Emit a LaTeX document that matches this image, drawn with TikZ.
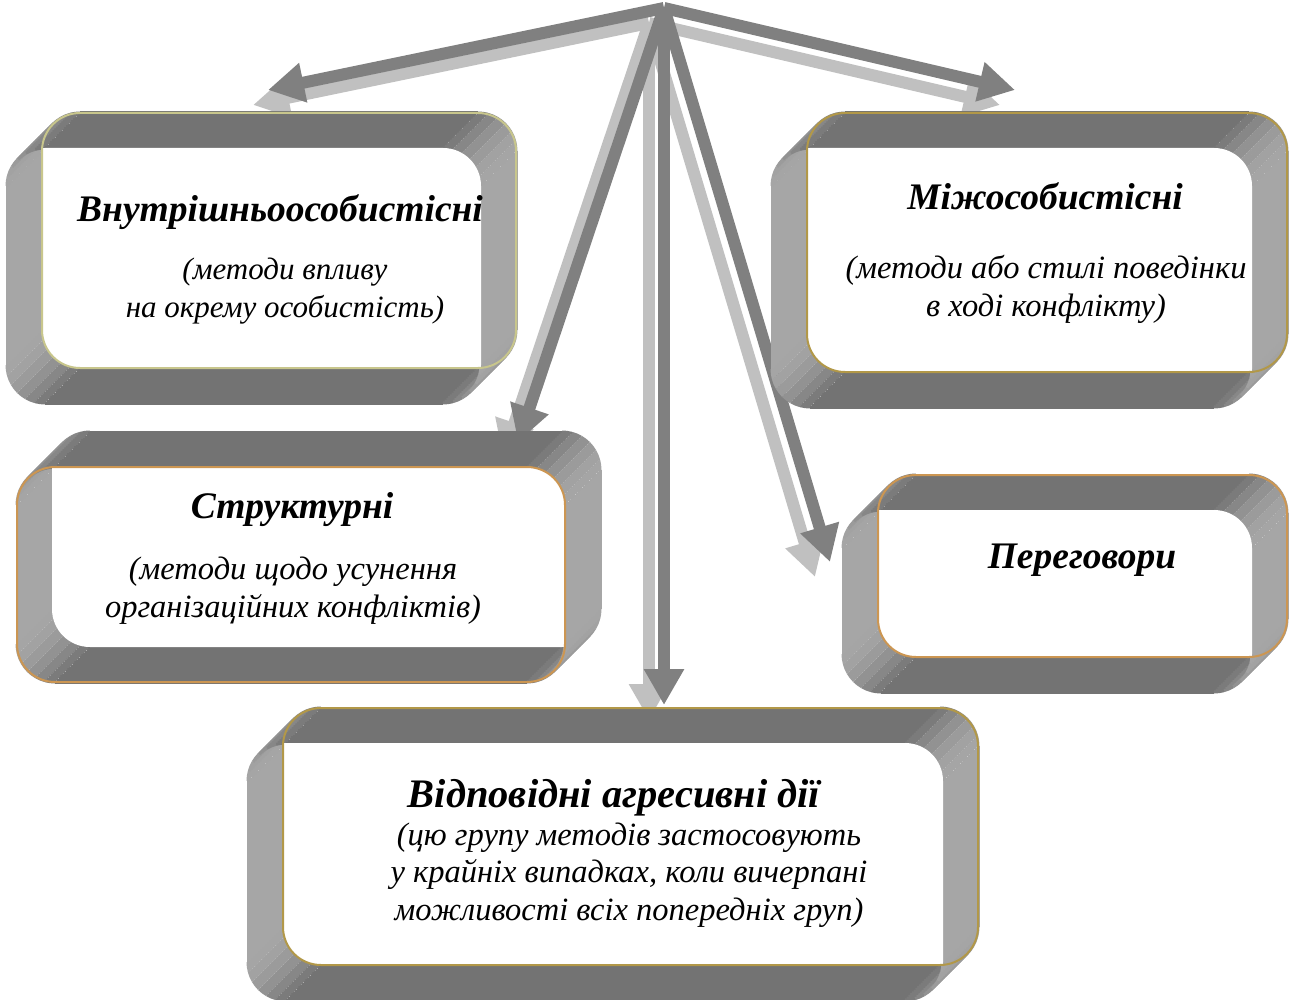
\documentclass[tikz,border=0pt]{standalone}
\usepackage{fontspec}
\setmainfont{Liberation Serif}
\usetikzlibrary{arrows.meta}

\definecolor{arrowDark}{RGB}{128,128,128}
\definecolor{arrowLight}{RGB}{192,192,192}
\definecolor{rimOlive}{RGB}{200,198,140}
\definecolor{rimGold}{RGB}{178,152,72}
\definecolor{rimAmber}{RGB}{204,150,82}

% tube frame: #1..#4 = left, top, right, bottom of the upper face,
% #5 = rim colour, #6 = 0 (rim on upper face) or 35 (rim on lower face)
\newcommand{\tubeframe}[6]{%
  \foreach \k in {0,...,20}{%
    \begin{scope}[shift={(-\k*1.75,\k*1.75)}]
      \draw[wall, draw=black!35] (#1,#2+38) -- (#1,#4-38);
      \draw[wall, draw=black!35] (#3,#2+38) -- (#3,#4-38);
      \draw[wall, draw=black!55] (#1+38,#2) -- (#3-38,#2);
      \draw[wall, draw=black!55] (#1+38,#4) -- (#3-38,#4);
      \foreach \cx/\cy/\a in {#1+38/#2+38/180, #3-38/#2+38/270, #3-38/#4-38/0, #1+38/#4-38/90}{
        \foreach \j in {0,...,5}{
          \pgfmathsetmacro\wallpct{54.5-19.5*abs(cos(\a+7.5+15*\j))}
          \draw[wall, draw=black!\wallpct] (\cx,\cy) ++(\a+15*\j:38)
            arc[start angle=\a+15*\j, delta angle=15, radius=38];
        }
      }
    \end{scope}}
  \begin{scope}
    \clip[rounded corners=38pt] (#1,#2) rectangle (#3,#4);
    \fill[white, rounded corners=38pt] (#1-35,#2+35) rectangle (#3-35,#4+35);
  \end{scope}
  \draw[rim, draw=#5] (#1-#6,#2+#6) rectangle (#3-#6,#4+#6);
}

\begin{document}
\begin{tikzpicture}[
    x=1pt, y=-1pt,
    wall/.style={line width=3pt},
    rim/.style={line width=2pt, rounded corners=38pt},
    boxtitle/.style={
        font=\fontsize{37.5}{42}\selectfont\bfseries\itshape,
        inner sep=0pt
    },
    boxnote/.style={
        font=\fontsize{32.5}{38}\selectfont\itshape,
        align=center,
        inner sep=0pt
    },
    linkdark/.style={
        draw=arrowDark,
        line width=12pt,
        -{Triangle[length=36pt,width=38pt]}
    },
    linklight/.style={
        draw=arrowLight,
        line width=12pt,
        -{Triangle[length=36pt,width=38pt]}
    }
]
\useasboundingbox (0,0) rectangle (1290,1000);

% ================= ARROWS FROM THE TOP =================
\coordinate (apex) at (664,8);
\coordinate (apex2) at (649,23);
\foreach \n/\x/\y in {intra/268/90, inter/1015/90, struct/518/442, aggr/664/705, negot/830/562}{
    \coordinate (\n-tip) at (\x,\y);
    \coordinate (\n-tip2) at (\x-15,\y+15);
}
\foreach \n in {intra, inter, struct, aggr, negot}
    \draw[linklight] (apex2) -- (\n-tip2);
\foreach \n in {intra, inter, struct, aggr, negot}
    \draw[linkdark] (apex) -- (\n-tip);

% ================= FRAMES =================
\tubeframe{42}{113}{516}{368}{rimOlive}{0}
\tubeframe{807}{113}{1287}{372}{rimGold}{0}
\tubeframe{52}{432}{600}{647}{rimAmber}{35}
\tubeframe{878}{475}{1287}{657}{rimAmber}{0}
\tubeframe{283}{708}{978}{965}{rimGold}{0}

% ================= TEXTS =================
\node[boxtitle] (t1) at (280,212) {Внутрішньоособистісні};
\node[boxnote, font=\fontsize{31}{38}\selectfont\itshape] (s1) at (285,291) {(методи впливу\\на окрему особистість)};

\node[boxtitle] (t2) at (1045,196) {Міжособистісні};
\node[boxnote] (s2) at (1046,289) {(методи або стилі поведінки\\в ході конфлікту)};

\node[boxtitle] (t3) at (292,510) {Структурні};
\node[boxnote] (s3) at (293,591) {(методи щодо усунення\\організаційних конфліктів)};

\node[boxtitle] (t4) at (1082,560) {Переговори};

\node[boxtitle, font=\fontsize{40.5}{45}\selectfont\bfseries\itshape] (t5) at (614,798) {Відповідні агресивні дії};
\node[boxnote, font=\fontsize{32.5}{37.5}\selectfont\itshape] (s5) at (629,875) {(цю групу методів застосовують\\у крайніх випадках, коли вичерпані\\можливості всіх попередніх груп)};

\end{tikzpicture}
\end{document}
